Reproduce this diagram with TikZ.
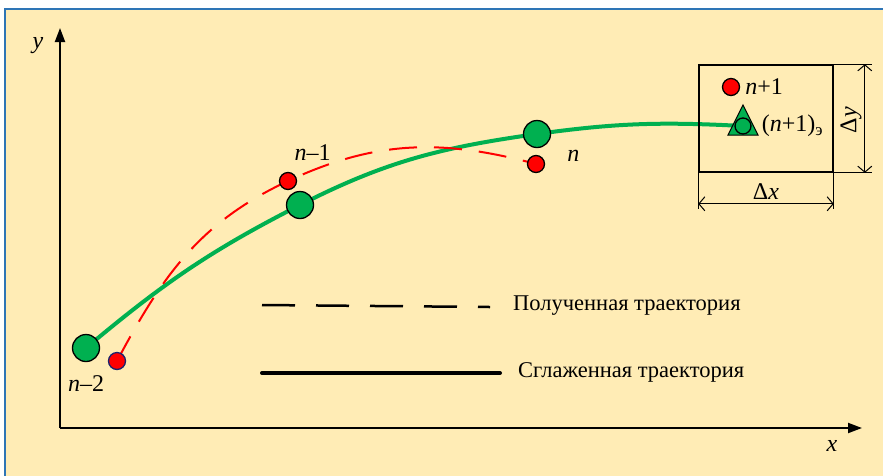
\documentclass[tikz,border=0pt]{standalone}
\usepackage{fontspec}
\setmainfont{Liberation Serif}
\usepackage{tikz}
\usetikzlibrary{positioning,arrows.meta}
\definecolor{bgyellow}{RGB}{255,236,181}
\definecolor{frameblue}{RGB}{46,117,182}
\definecolor{trgreen}{RGB}{0,176,80}
\definecolor{ptnavy}{RGB}{25,35,110}
\pgfdeclarelayer{bg}
\pgfdeclarelayer{curves}
\pgfsetlayers{bg,curves,main}

\begin{document}
\begin{tikzpicture}[x=1pt,y=-1pt,>=Stealth,font=\fontsize{24}{28}\selectfont,
  bigpt/.style={circle,minimum size=27pt,inner sep=0pt,line width=1.3pt,draw=black,fill=trgreen},
  smallpt/.style={circle,minimum size=17pt,inner sep=0pt,line width=1.3pt,draw=black,fill=red},
  lbl/.style={inner sep=0pt},
  legtext/.style={inner sep=0pt,anchor=west,font=\fontsize{22.5}{26}\selectfont},
  axis/.style={line width=2pt,-{Triangle[length=14pt,width=10pt]}},
  dimline/.style={line width=1pt},
  dimarrow/.style={line width=1pt,{Straight Barb[length=6pt,width=14pt]}-{Straight Barb[length=6pt,width=14pt]}},
  smoothtraj/.style={line width=4pt,draw=trgreen},
  rawtraj/.style={line width=2pt,draw=red,dash pattern=on 28pt off 17pt}]
\useasboundingbox (0,0) rectangle (883,475);
\clip (0,0) rectangle (883,475);
\begin{pgfonlayer}{bg}
\fill[white] (0,0) rectangle (883,475);
\filldraw[fill=bgyellow,draw=frameblue,line width=2pt] (5,9) rectangle (900,490);
\end{pgfonlayer}
% axes
\coordinate (o) at (60,428);
\coordinate (ytip) at (60,28);
\coordinate (xtip) at (862,428);
\draw[axis] (o) -- (ytip);
\draw[axis] (o) -- (xtip);
\node[lbl] (ylbl) at (38,46) {\textit{y}};
\node[lbl] (xlbl) at (832,446) {\textit{x}};
% points
\node[bigpt] (g1) at (86,348) {};
\node[bigpt] (g2) at (300,205) {};
\node[bigpt] (g3) at (537,134) {};
\node[smallpt,draw=ptnavy] (r1) at (117,361) {};
\node[smallpt] (r2) at (288,181) {};
\node[smallpt] (r3) at (536,164) {};
\node[below=13pt of g1,lbl] {\textit{n}–2};
\node[above right=14pt and 0pt of r2,lbl] {\textit{n}–1};
\node[right=22pt of r3,lbl,yshift=8pt] {\textit{n}};
% window
\node[draw,line width=1.6pt,minimum width=134pt,minimum height=107pt,inner sep=0pt] (win) at (766,118.5) {};
\node[smallpt] (r4) at (731,87) {};
\node[right=5pt of r4,lbl] {\textit{n}+1};
\filldraw[fill=trgreen,draw=black,line width=1pt] (743,105) -- (758,135) -- (728,135) -- cycle;
\node[circle,minimum size=16pt,inner sep=0pt,line width=1.3pt,draw=black,fill=trgreen] (e) at (743,126) {};
\node[right=10pt of e,lbl] {(\textit{n}+1)\textsubscript{э}};
\draw[dimline] (win.north east) -- ([xshift=38pt]win.north east);
\draw[dimline] (win.south east) -- ([xshift=38pt]win.south east);
\draw[dimarrow] ([xshift=31pt]win.north east) -- ([xshift=31pt]win.south east);
\draw[dimline] (win.south west) -- ([yshift=-36pt]win.south west);
\draw[dimline] (win.south east) -- ([yshift=-36pt]win.south east);
\draw[dimarrow] ([yshift=-31pt]win.south west) -- ([yshift=-31pt]win.south east)
  node[midway,above=4pt,lbl] {Δ\textit{x}};
\node[lbl,rotate=90] (dylbl) at (851,120) {Δ\textit{y}};
% trajectories
\begin{pgfonlayer}{curves}
\draw[smoothtraj] (g1.center) to[out=40,in=207] (g2.center) to[out=27,in=188] (g3.center) to[out=8,in=177] (e.center);
\draw[rawtraj] (r1.center) to[out=62,in=205] (r2.center) to[out=25,in=165] (r3.center);
\end{pgfonlayer}
% legend
\node[legtext] (legraw) at (513,306) {Полученная траектория};
\node[legtext] (legsmooth) at (518,372) {Сглаженная траектория};
\coordinate (la) at (262,305);
\coordinate (lb) at (262,373);
\draw[line width=2.5pt,dash pattern=on 33pt off 21pt] (la) -- ([xshift=-23pt,yshift=-1pt]legraw.west);
\draw[line width=4pt,line cap=round] (lb) -- ([xshift=-18pt,yshift=-1pt]legsmooth.west);
\end{tikzpicture}
\end{document}
